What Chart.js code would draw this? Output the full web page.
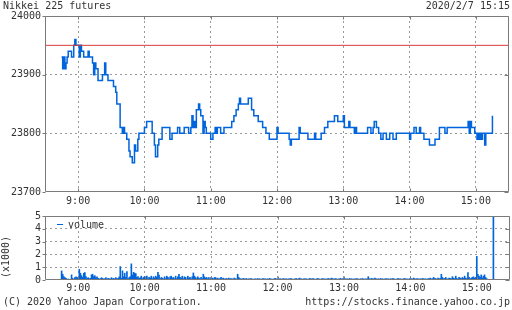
<!DOCTYPE html>
<html><head><meta charset="utf-8">
<script src="https://cdn.jsdelivr.net/npm/chart.js@4/dist/chart.umd.min.js"></script>
<style>
html,body{margin:0;padding:0;background:#fff;width:512px;height:310px;overflow:hidden;position:relative;}
.t{position:absolute;font:10px "DejaVu Sans Mono",monospace;color:#333;white-space:pre;line-height:12px;}
canvas{position:absolute;left:0;}
</style></head><body>
<canvas id="p" width="512" height="210" style="top:0;width:512px;height:210px"></canvas>
<canvas id="v" width="512" height="90" style="top:206px;width:512px;height:90px"></canvas>
<div class="t" style="left:3px;top:0px">Nikkei 225 futures</div>
<div class="t" style="right:2px;top:0px">2020/2/7 15:15</div>
<div class="t" style="left:3px;top:296px">(C) 2020 Yahoo Japan Corporation.</div>
<div class="t" style="right:2px;top:296px">https://stocks.finance.yahoo.co.jp</div>
<div class="t" style="left:-15px;top:251px;width:42px;text-align:center;transform:rotate(-90deg);">(x1000)</div>
<div class="t" style="left:57px;top:219px;"><span style="display:inline-block;width:6px;height:1px;background:#0064dc;vertical-align:middle;margin-right:5px;position:relative;top:-1px"></span>volume</div>
<script>
// ---- data ----
const title = "Nikkei 225 futures";
const prevClose = 23950;
const priceTimes = ["8:45","8:46","8:47","8:48","8:49","8:50","8:51","8:54","8:56","8:57","8:58",
 "9:01","9:02","9:03","9:05","9:09","9:10","9:13","9:14","9:15","9:16","9:18","9:22","9:24","9:25","9:27",
 "9:32","9:34","9:35","9:38","9:40","9:41","9:42","9:44","9:46","9:47","9:49","9:51","9:52","9:54","9:55",
 "10:00","10:02","10:07","10:09","10:10","10:12","10:13","10:16","10:23","10:25","10:30","10:32","10:36",
 "10:40","10:42","10:43","10:44","10:45","10:46","10:47","10:49","10:50","10:51","10:53","10:54","10:55","10:56",
 "11:00","11:02","11:04","11:05","11:06","11:09","11:12","11:19","11:21","11:23","11:25","11:26","11:27",
 "11:34","11:37","11:39","11:43","11:47","11:50","11:53",
 "12:00","12:01","12:11","12:12","12:13","12:20","12:21","12:28","12:34","12:35","12:40","12:43","12:46","12:52","12:55",
 "13:00","13:01","13:05","13:06","13:10","13:11","13:12","13:22","13:25","13:27","13:28","13:30","13:32","13:34",
 "13:36","13:39","13:42","13:45","13:48",
 "14:00","14:01","14:04","14:06","14:09","14:10","14:13","14:18","14:23","14:27","14:32","14:34",
 "14:53","14:54","14:55","14:56","14:59",
 "15:01","15:02","15:03","15:04","15:05","15:06","15:08","15:09","15:15"];
const prices = [23930,23910,23930,23910,23920,23930,23940,23930,23950,23960,23950,
 23930,23950,23940,23930,23940,23930,23920,23900,23920,23910,23890,23900,23920,23900,23890,
 23880,23870,23850,23810,23800,23810,23800,23790,23770,23760,23750,23780,23770,23790,23800,
 23810,23820,23800,23780,23760,23780,23790,23810,23790,23800,23810,23800,23810,
 23800,23810,23830,23810,23820,23810,23840,23850,23840,23830,23800,23820,23810,23800,
 23790,23800,23810,23800,23810,23800,23810,23820,23830,23840,23850,23860,23850,
 23860,23840,23830,23820,23810,23800,23790,
 23810,23800,23790,23780,23790,23810,23800,23790,23800,23790,23800,23810,23820,23830,23820,
 23830,23810,23820,23810,23800,23810,23800,23810,23800,23810,23820,23810,23800,23790,
 23800,23790,23800,23790,23800,
 23790,23800,23810,23800,23810,23800,23790,23780,23790,23810,23800,23810,
 23820,23800,23820,23810,23800,
 23790,23800,23790,23800,23790,23800,23780,23800,23830];
// volume per minute (x1000), starting 8:45
const volStart = "8:45";
const volume = [
 0.71,0.45,0.26,0.18,0.13,0.06,0.08,0,0.05,0.4,0.13,0.05,0.18,0.24,0.18,
 0.2,0.84,0.53,0.34,0.2,0.53,0.58,0.26,0.13,0.18,0.1,0.13,0.4,0.45,0.26,
 0.34,0.18,0.24,0.13,0.08,0.1,0.18,0.13,0.08,0.1,0.18,0.08,0.13,0.1,0.08,
 0.18,0.1,0.13,0.08,0.18,0.1,0.13,0.24,1.05,0.13,0.71,0.26,0.53,0.2,0.66,
 0.1,0.18,0.26,1.26,0.4,0.6,0.53,0.5,0.2,0.26,0.13,0.18,0.3,0.1,0.2,
 0.26,0.15,0.3,0.1,0.2,0.15,0.3,0.1,0.25,0.15,0.3,0.2,0.6,0.38,0.1,
 0.2,0.15,0.08,0.25,0.1,0.3,0.2,0.1,0.25,0.3,0.15,0.2,0.1,0.3,0.1,
 0.25,0.45,0.2,0.15,0.3,0.1,0.25,0.2,0.08,0.3,0.15,0.2,0.1,0.25,0.55,
 0.3,0.2,0.1,0.25,0.15,0.1,0.2,0.1,0.45,0.25,0.15,0.2,0.1,0.18,0.08,
 0.2,0.15,0.1,0.18,0.2,0.1,0.15,0.08,0.12,0.2,0.1,0.15,0.08,0.1,0.12,
 0.08,0.15,0.1,0.12,0.1,0.08,0.15,0.1,0.08,0.45,0.2,0.12,0.1,0.08,0.12,
 0.1,0.08,0.12,0.06,0.1,0.08,0.12,0.1,0.05,0.08,0.1,0.06,0.12,0.08,0.1,
 0.06,0.1,0.12,0.08,0.1,0.06,0.1,0.08,0.12,0.1,0.06,0.08,0.1,0.12,0.08,
 0.1,0.12,0.08,0.1,0.06,0.12,0.1,0.08,0.1,0.06,0.1,0.08,0.12,0.1,0.06,
 0.08,0.1,0.12,0.06,0.1,0.15,0.08,0.1,0.06,0.12,0.08,0.1,0.06,0.08,0.12,
 0.1,0.08,0.12,0.1,0.06,0.08,0.12,0.1,0.08,0.06,0.1,0.12,0.08,0.1,0.06,
 0.1,0.12,0.08,0.1,0.15,0.1,0.08,0.12,0.1,0.06,0.08,0.1,0.12,0.08,0.1,
 0.12,0.1,0.08,0.1,0.06,0.12,0.08,0.1,0.06,0.1,0.08,0.12,0.1,0.08,0.06,
 0.1,0.08,0.12,0.06,0.1,0.08,0.1,0.26,0.1,0.08,0.12,0.1,0.08,0.15,0.1,
 0.08,0.1,0.06,0.12,0.08,0.1,0.06,0.1,0.12,0.08,0.1,0.06,0.1,0.08,0.12,
 0.1,0.08,0.06,0.1,0.12,0.08,0.1,0.06,0.08,0.1,0.12,0.08,0.1,0.06,0.1,
 0.12,0.1,0.08,0.15,0.1,0.08,0.12,0.1,0.06,0.1,0.08,0.12,0.1,0.08,0.1,
 0.06,0.12,0.1,0.15,0.08,0.1,0.2,0.12,0.1,0.08,0.15,0.1,0.12,0.45,0.2,
 0.1,0.12,0.2,0.08,0.1,0.15,0.12,0.1,0.26,0.15,0.1,0.3,0.12,0.1,0.2,
 0.15,0.1,0.2,0.12,0.3,0.15,0.1,0.58,0.2,0.1,0.15,0.2,0.25,0.15,0.2,
 1.84,0.45,0.3,0.2,0.4,0.15,0.3,0.4,0.2,0.1,0.05,0,0,0,0,
 5.6];
const xMin = "8:30", xMax = "15:30";
const priceTicks = [23700, 24000, 100];
const volTicks = [0, 5, 1];

// ---- helpers ----
const toMin = s => { const [h,m] = s.split(':').map(Number); return h*60+m; };
const fmt = v => Math.floor(v/60) + ':' + String(v%60).padStart(2,'0');
const BLUE = '#0064dc', GRID = '#9a9a9a', FRAME = '#7a7a7a', TXT = '#333';
Chart.defaults.font.family = '"DejaVu Sans Mono", monospace';
Chart.defaults.font.size = 10;
Chart.defaults.color = TXT;

const frame = {
  id: 'frame',
  afterDraw(c) {
    const {ctx, chartArea: a, scales: {x, y}} = c;
    const L = Math.round(a.left) + 0.5, R = Math.round(a.right) - 0.5;
    const T = Math.round(a.top) + 0.5, B = Math.round(a.bottom) - 0.5;
    ctx.save();
    ctx.strokeStyle = FRAME; ctx.lineWidth = 1;
    ctx.beginPath();
    ctx.rect(L, T, R - L, B - T);
    for (let t = x.min + 30; t < x.max; t += 60) {
      const px = Math.round(x.getPixelForValue(t)) + 0.5;
      ctx.moveTo(px, T); ctx.lineTo(px, T + 3);
      ctx.moveTo(px, B); ctx.lineTo(px, B - 3);
    }
    for (let v = y.min; v <= y.max; v += c.options.scales.y.ticks.stepSize) {
      const py = Math.round(y.getPixelForValue(v)) + 0.5;
      ctx.moveTo(L - 3, py); ctx.lineTo(L, py);
      ctx.moveTo(R, py); ctx.lineTo(R - 4, py);
    }
    ctx.stroke();
    ctx.restore();
  }
};

function xScale(labelPad, h) {
  return {
    type: 'linear', min: toMin(xMin), max: toMin(xMax), offset: false,
    afterFit: s => { s.height = h; },
    ticks: { stepSize: 30, autoSkip: false, maxRotation: 0, padding: labelPad,
      callback: v => (v % 60 === 0 ? fmt(v) : '') },
    grid: { drawTicks: false, lineWidth: 1, offset: false,
      color: ctx => (ctx.tick && ctx.tick.value % 60 === 0 ? GRID : 'rgba(0,0,0,0)') },
    border: { display: false, dash: [2, 3] }
  };
}
function yScale(tk) {
  return {
    min: tk[0], max: tk[1],
    afterFit: s => { s.width = 45; },
    ticks: { stepSize: tk[2], padding: 4, autoSkip: false, callback: v => String(v) },
    grid: { drawTicks: false,
      color: ctx => (ctx.tick && ctx.tick.value > tk[0] && ctx.tick.value < tk[1] ? GRID : 'rgba(0,0,0,0)') },
    border: { display: false, dash: [2, 3] }
  };
}

new Chart(document.getElementById('p'), {
  type: 'line',
  data: {
    datasets: [
      { data: [{x: toMin(xMin), y: prevClose}, {x: toMin(xMax), y: prevClose}],
        borderColor: '#d83c3c', borderWidth: 1, pointRadius: 0 },
      { data: priceTimes.map((t, i) => ({x: toMin(t), y: prices[i]})),
        stepped: true, borderColor: BLUE, borderWidth: 1.5, pointRadius: 0 }
    ]
  },
  options: {
    responsive: false, animation: false, events: [],
    layout: { padding: { top: 16, right: 1, left: 0, bottom: 0 } },
    plugins: { legend: { display: false }, tooltip: { enabled: false } },
    scales: { x: xScale(3, 18), y: yScale(priceTicks) }
  },
  plugins: [frame]
});

const v0 = toMin(volStart);
new Chart(document.getElementById('v'), {
  type: 'bar',
  data: {
    datasets: [{ label: 'volume', data: volume.map((val, i) => ({x: v0 + i, y: val})),
      backgroundColor: BLUE, barThickness: 1, borderWidth: 0 }]
  },
  options: {
    responsive: false, animation: false, events: [],
    layout: { padding: { top: 10, right: 1, left: 0, bottom: 0 } },
    plugins: { legend: { display: false }, tooltip: { enabled: false } },
    scales: { x: xScale(2, 16), y: yScale(volTicks) }
  },
  plugins: [frame]
});
</script>
</body></html>
